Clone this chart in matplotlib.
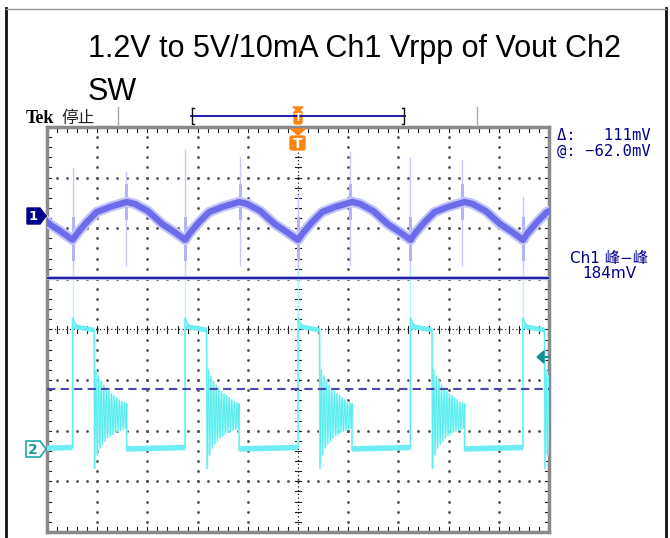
import numpy as np
import matplotlib
matplotlib.use("Agg")
import matplotlib.pyplot as plt
from matplotlib.patches import Polygon, FancyBboxPatch

# ---- data (divisions: x 0..10, y -4..4) ----
# start of every switching cycle (Ch1 valley / Ch2 rising edge)
cycle_starts = [-1.735, 0.51, 2.75, 5.00, 7.24, 9.48]

# Ch1 (Vout ripple) shape over one cycle
ch1_t = [0, 0.10, 0.28, 0.48, 0.74, 1.08, 1.24, 1.50, 1.79, 1.99, 2.245]
ch1_v = [1.77, 1.91, 2.12, 2.32, 2.42, 2.52, 2.48, 2.34, 2.08, 1.95, 1.77]

# Ch1 spikes: at valleys and at peaks (x, top, bottom)
valley_spike_x = [0.51, 2.75, 5.00, 7.24, 9.48]
valley_spike_top = [3.19, 3.55, 2.66, 3.39, 2.62]
valley_spike_bot = [1.08, 1.08, 1.08, 1.08, 1.08]
peak_spike_x = [1.58, 3.84, 6.03, 8.27]
peak_spike_top = [3.11, 3.41, 3.51, 3.35]
peak_spike_bot = [1.27, 1.27, 1.27, 1.27]

# Ch2 (SW node) shape over one cycle
ch2_t = [0, 0, 0.04, 0.12, 0.43, 0.44,
         0.465, 0.49, 0.516, 0.542, 0.568, 0.594, 0.62, 0.646, 0.672, 0.698,
         0.724, 0.75, 0.776, 0.802, 0.828, 0.853, 0.879, 0.905, 0.931, 0.957,
         0.983, 1.009, 1.035, 1.061, 1.077, 1.077, 2.245]
ch2_v = [-2.32, 0.23, 0.13, 0.05, -0.01, -2.74,
         -0.80, -2.48, -0.92, -2.34, -1.02, -2.26, -1.10, -2.20, -1.16, -2.14,
         -1.22, -2.10, -1.27, -2.07, -1.31, -2.03, -1.35, -2.01, -1.39, -1.99,
         -1.43, -1.97, -1.45, -1.95, -1.47, -2.38, -2.32]
ch2_edge_top = 1.18

cursor_solid = 1.02
cursor_dashed = -1.18

W, H = 670, 538
fig = plt.figure(figsize=(W / 100, H / 100), dpi=100)
fig.patch.set_facecolor("white")

# scope graticule axes (pixel box 47..549 x 127..532)
x0, x1, y0, y1 = 47, 549, 127, 532
ax = fig.add_axes([x0 / W, 1 - y1 / H, (x1 - x0) / W, (y1 - y0) / H])
ax.set_xlim(0, 10)
ax.set_ylim(-4, 4)
ax.set_xticks([])
ax.set_yticks([])
for s in ax.spines.values():
    s.set_color("#8a8a8a")
    s.set_linewidth(2.5)
ax.set_zorder(1)

# graticule dots
dot = dict(ls="none", marker="s", ms=0.9, color="#505050", zorder=1)
for gx in range(1, 10):
    if gx == 5:
        continue
    ys = np.arange(-4, 4.01, 0.2)
    ax.plot(np.full_like(ys, gx), ys, **dot)
for gy in range(-3, 4):
    if gy == 0:
        continue
    xs = np.arange(0, 10.01, 0.2)
    ax.plot(xs, np.full_like(xs, gy), **dot)
# centre cross with ticks
ax.axhline(0, color="#202020", lw=0.9, ls=(0, (1, 2)), zorder=1)
ax.axvline(5, color="#202020", lw=0.9, ls=(0, (1, 2)), zorder=1)
for t in np.arange(0, 10.01, 0.2):
    ax.plot([t, t], [-0.06, 0.06], color="#202020", lw=0.8, zorder=1)
    ax.plot([t, t], [-4, -3.9], color="#202020", lw=0.8, zorder=1)
    ax.plot([t, t], [3.9, 4], color="#202020", lw=0.8, zorder=1)
for t in np.arange(-4, 4.01, 0.2):
    ax.plot([4.95, 5.05], [t, t], color="#202020", lw=0.8, zorder=1)
    ax.plot([0, 0.08], [t, t], color="#202020", lw=0.8, zorder=1)
    ax.plot([9.92, 10], [t, t], color="#202020", lw=0.8, zorder=1)

# Ch1 trace
c1x = np.concatenate([s + np.array(ch1_t) for s in cycle_starts])
c1y = np.concatenate([np.array(ch1_v) for s in cycle_starts])
for x, top, bot in zip(valley_spike_x, valley_spike_top, valley_spike_bot):
    ax.plot([x, x], [bot, top], color="#c8c8ff", lw=1.0, zorder=2)
    ax.plot([x, x], [1.4, 2.2], color="#b4b4f8", lw=2.2, zorder=2)
for x, top, bot in zip(peak_spike_x, peak_spike_top, peak_spike_bot):
    ax.plot([x, x], [bot, top], color="#c8c8ff", lw=1.0, zorder=2)
    ax.plot([x, x], [2.2, 2.85], color="#b4b4f8", lw=2.2, zorder=2)
ax.plot(c1x, c1y, color="#c4c4fa", lw=7.5, solid_joinstyle="round",
        solid_capstyle="round", zorder=3)
ax.plot(c1x, c1y, color="#6c6cea", lw=4.5, solid_joinstyle="round",
        solid_capstyle="round", zorder=3)

# Ch2 trace
c2x = np.concatenate([s + np.array(ch2_t) for s in cycle_starts])
c2y = np.concatenate([np.array(ch2_v) for s in cycle_starts])
for s in cycle_starts:
    ax.plot([s, s], [-2.32, ch2_edge_top], color="#b4f6fa", lw=0.9, zorder=2)
ax.plot(c2x, c2y, color="#a6f8f8", lw=1.5, zorder=3)
ax.plot(c2x, c2y, color="#58ecf0", lw=0.7, zorder=3)
# thicker band on the flat parts
for s in cycle_starts:
    ax.plot([s + 1.077, s + 2.245], [-2.36, -2.33], color="#6eeef2", lw=4,
            solid_capstyle="butt", zorder=3)
    ax.plot([s + 0.02, s + 0.43], [0.06, -0.01], color="#6eeef2", lw=3.5,
            solid_capstyle="butt", zorder=3)

# cursors
ax.axhline(cursor_solid, color="#b8b8e8", lw=3, zorder=4)
ax.axhline(cursor_solid, color="#10109a", lw=1.3, zorder=4)
ax.axhline(cursor_dashed, color="#4848b0", lw=1.5, ls=(0, (4, 2.5)), zorder=4)

# ---- overlay in pixel coordinates for screen decorations ----
ov = fig.add_axes([0, 0, 1, 1])
ov.set_xlim(0, W)
ov.set_ylim(H, 0)
ov.axis("off")
ov.patch.set_alpha(0)
ov.set_zorder(3)

# outer frame
ov.plot([6, 6], [8, H], color="#111111", lw=2)
ov.plot([666, 666], [8, H], color="#111111", lw=2)
ov.plot([6, 666], [8.5, 8.5], color="#9a9a9a", lw=1)

# title
ov.text(88, 57, "1.2V to 5V/10mA Ch1 Vrpp of Vout Ch2", fontsize=22,
        family="Liberation Sans", va="baseline", ha="left")
ov.text(88, 100, "SW", fontsize=22, family="Liberation Sans",
        va="baseline", ha="left")

# header
ov.text(26, 123, "Tek", fontsize=13, family="Liberation Serif",
        fontweight="bold", va="baseline")
ov.text(61, 123, "停止", fontsize=12, family=["Noto Sans CJK SC"],
        va="baseline", color="#222222")
for gx in (118, 477):
    ov.plot([gx, gx], [107, 126], color="#a8a8a8", lw=1)
ov.plot([191, 405], [116, 116], color="#0c0ca8", lw=1.3)
ov.plot([192, 192, 194], [108, 124, 124], color="#111111", lw=1)
ov.plot([192, 194], [108, 108], color="#111111", lw=1)
ov.plot([404, 404, 402], [108, 124, 124], color="#111111", lw=1)
ov.plot([404, 402], [108, 108], color="#111111", lw=1)

orange = "#ff8410"
ov.add_patch(Polygon([(293, 107), (303, 107), (298, 111)], color=orange))
ov.add_patch(FancyBboxPatch((294, 111), 8, 13, boxstyle="round,pad=0,rounding_size=2",
                            color=orange))
ov.text(298, 118, "T", fontsize=7, color="white", ha="center", va="center",
        fontweight="bold")
ov.add_patch(Polygon([(291, 129), (305, 129), (298, 135)], color=orange))
ov.add_patch(FancyBboxPatch((290, 136), 15, 14, boxstyle="round,pad=0,rounding_size=2",
                            color=orange))
ov.text(297.5, 143.5, "T", fontsize=10, color="white", ha="center", va="center",
        fontweight="bold")

# channel markers
ov.add_patch(Polygon([(27, 208), (40, 208), (46, 216), (40, 224), (27, 224)],
                     closed=True, facecolor="#00008c", edgecolor="#00008c"))
ov.text(33.5, 216.5, "1", fontsize=9.5, color="white", fontweight="bold",
        ha="center", va="center")
ov.add_patch(Polygon([(26, 441), (40, 441), (46, 449), (40, 457), (26, 457)],
                     closed=True, facecolor="white", edgecolor="#20a8a8", lw=1.2))
ov.text(33, 449.5, "2", fontsize=10, color="#1a9a9a", fontweight="bold",
        ha="center", va="center")

# trigger level arrow
ov.add_patch(Polygon([(537, 357), (544, 351), (544, 363)], color="#0a9090"))
ov.plot([543, 549], [357, 357], color="#0a9090", lw=1.3)

# readouts
navy = "#00008e"
ov.text(557, 140, "Δ:   111mV", fontsize=11.2, family="DejaVu Sans Mono",
        color=navy, va="baseline")
ov.text(557, 156, "@: −62.0mV", fontsize=11.2, family="DejaVu Sans Mono",
        color=navy, va="baseline")
ov.text(609, 263, "Ch1 峰−峰", fontsize=11,
        family=["DejaVu Sans", "Noto Sans CJK SC"], color=navy,
        ha="center", va="baseline")
ov.text(609, 278, "184mV", fontsize=11, family="DejaVu Sans",
        color=navy, ha="center", va="baseline")

fig.savefig("out.png", dpi=100)
